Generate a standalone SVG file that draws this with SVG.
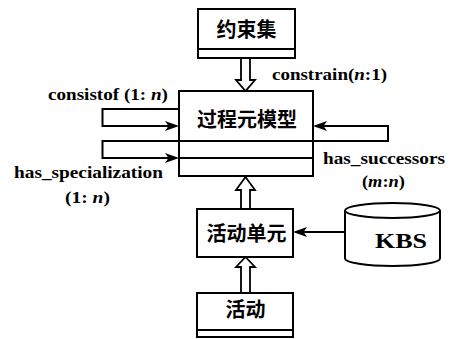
<svg xmlns="http://www.w3.org/2000/svg" width="450" height="339" viewBox="0 0 450 339">
  <style>
    .box { fill: #fff; stroke: #000; stroke-width: 2; }
    .ln { fill: none; stroke: #000; stroke-width: 2; }
    .ah { fill: #000; stroke: none; }
    .hollow { fill: #fff; stroke: #000; stroke-width: 1.8; stroke-linejoin: miter; }
    .cjk { font-family: "Noto Sans CJK SC", "Noto Sans", sans-serif; font-size: 20px; font-weight: bold; text-anchor: middle; fill: #000; }
    .lbl { font-family: 'Liberation Serif', 'DejaVu Serif', serif; font-weight: bold; fill: #000; }
    .it { font-style: italic; }
  </style>
  <rect width="450" height="339" fill="#fff"/>

  <!-- connectors -->
  <g id="connectors">
    <!-- constraint set feeds the model -->
    <polygon class="hollow" points="241,58 241,80 236,80 245.5,91 255,80 250,80 250,58"/>
    <!-- activity unit feeds the model -->
    <polygon class="hollow" points="241,209 241,190 236,190 245.5,177 255,190 250,190 250,209"/>
    <!-- activity feeds the activity unit -->
    <polygon class="hollow" points="241,293 241,267 236,267 245.5,257 255,267 250,267 250,293"/>
    <!-- consistof self loop -->
    <path class="ln" d="M179,109 H102.5 V126 H170"/>
    <polygon class="ah" points="179,126 165,121 168.5,126 165,131"/>
    <!-- has_specialization self loop -->
    <path class="ln" d="M179,141 H102.5 V158 H170"/>
    <polygon class="ah" points="179,158 165,153 168.5,158 165,163"/>
    <!-- has_successors self loop -->
    <path class="ln" d="M313,141 H388 V126 H322"/>
    <polygon class="ah" points="313,126 327,121 323.5,126 327,131"/>
    <!-- KBS to activity unit -->
    <path class="ln" d="M345,232 H302"/>
    <polygon class="ah" points="293,232 307,227 303.5,232 307,237"/>
  </g>

  <!-- constraint set -->
  <g id="constraint-set">
    <rect class="box" x="198" y="9" width="97" height="49"/>
    <line class="ln" x1="198" y1="49" x2="295" y2="49"/>
    <text class="cjk" x="246.5" y="37">约束集</text>
  </g>

  <!-- process element model -->
  <g id="process-model">
    <rect class="box" x="179" y="91" width="134" height="85"/>
    <line class="ln" x1="179" y1="141" x2="313" y2="141"/>
    <line class="ln" x1="179" y1="158" x2="313" y2="158"/>
    <text class="cjk" x="247" y="127">过程元模型</text>
  </g>

  <!-- activity unit -->
  <g id="activity-unit">
    <rect class="box" x="197" y="209" width="96" height="48"/>
    <text class="cjk" x="246.5" y="241">活动单元</text>
  </g>

  <!-- activity -->
  <g id="activity">
    <rect class="box" x="197" y="293" width="96" height="44"/>
    <line class="ln" x1="197" y1="330" x2="293" y2="330"/>
    <text class="cjk" x="245.5" y="317">活动</text>
  </g>

  <!-- knowledge base -->
  <g id="kbs">
    <path class="box" d="M345,210.5 V258.5 A47.5,7.5 0 0 0 440,258.5 V210.5"/>
    <ellipse class="box" cx="392.5" cy="210.5" rx="47.5" ry="7.5"/>
    <text class="lbl" x="401" y="248" text-anchor="middle" style="font-size:20px" textLength="52" lengthAdjust="spacingAndGlyphs">KBS</text>
  </g>

  <!-- relation labels -->
  <g id="labels" class="lbl" style="font-size:17px">
    <text x="272" y="80" textLength="115" lengthAdjust="spacingAndGlyphs">constrain(<tspan class="it">n</tspan>:1)</text>
    <text x="48" y="100" textLength="120" lengthAdjust="spacingAndGlyphs">consistof (1: <tspan class="it">n</tspan>)</text>
    <text x="323" y="164" textLength="122" lengthAdjust="spacingAndGlyphs">has_successors</text>
    <text x="362" y="187" textLength="43" lengthAdjust="spacingAndGlyphs">(<tspan class="it">m</tspan>:<tspan class="it">n</tspan>)</text>
    <text x="14" y="178" textLength="149" lengthAdjust="spacingAndGlyphs">has_specialization</text>
    <text x="65" y="203" textLength="45" lengthAdjust="spacingAndGlyphs">(1: <tspan class="it">n</tspan>)</text>
  </g>
</svg>
